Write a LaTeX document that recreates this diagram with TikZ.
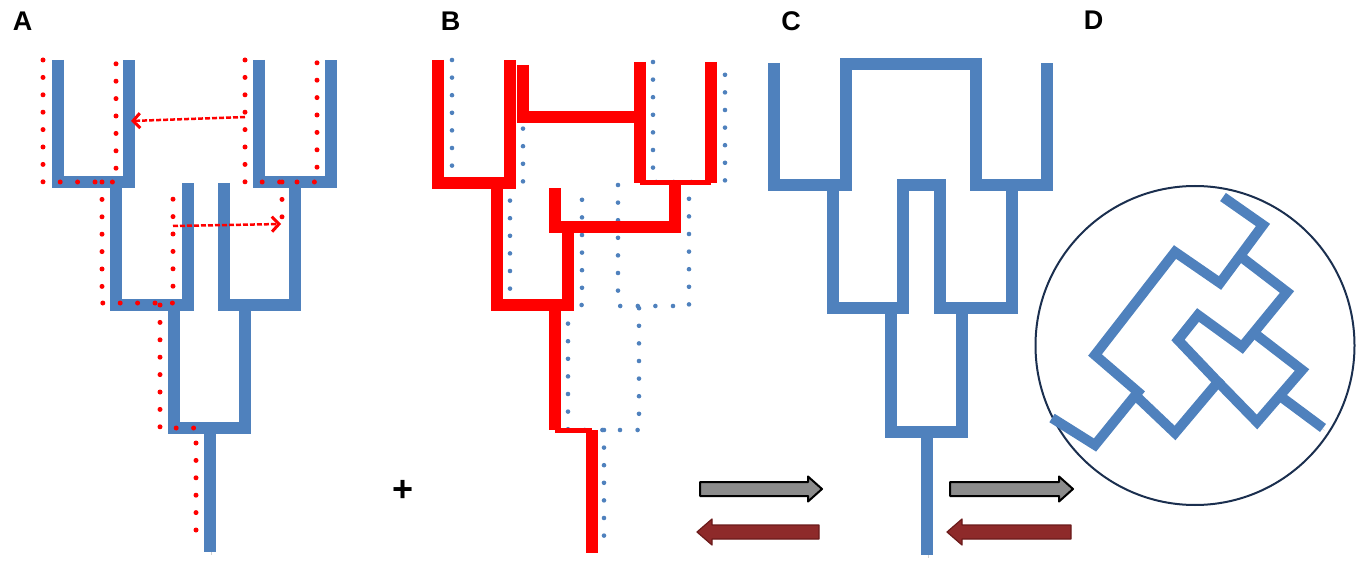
\documentclass[tikz,border=0pt]{standalone}
\usepackage{fontspec}
\setmainfont{Liberation Sans}
\usetikzlibrary{arrows.meta}
\definecolor{treeblue}{HTML}{4F81BD}
\definecolor{arrowgrey}{HTML}{8C8C8C}
\definecolor{arrowred}{HTML}{8E2A2A}
\definecolor{arrowredline}{HTML}{6A1A1A}
\definecolor{circleline}{HTML}{1B2F4F}
\begin{document}
\begin{tikzpicture}[x=1pt,y=-1pt,
  softshadow/.style={preaction={draw=black, draw opacity=0.18, transform canvas={shift={(1.5pt,-2.5pt)}}}},
  bluebar/.style={draw=treeblue, line width=12pt, line join=miter, softshadow},
  bluebarD/.style={draw=treeblue, line width=10pt, line join=miter, softshadow},
  redbar/.style={draw=red, line width=11.5pt, line join=miter},
  redthin/.style={draw=red, line width=5pt},
  reddots/.style={draw=red, line width=5pt, line cap=round, dash pattern=on 0pt off 17.4pt},
  bluedots/.style={draw=treeblue, line width=4.6pt, line cap=round, dash pattern=on 0pt off 17.6pt},
  movearrow/.style={draw=red, line width=2.5pt, dash pattern=on 5pt off 2pt, -{Straight Barb[length=7pt,width=15pt,line width=3pt]}},
  greyblock/.style={fill=arrowgrey, draw=black, line width=2pt, line join=round},
  redblock/.style={fill=arrowred, draw=arrowredline, line width=1.2pt, line join=round},
  panellabel/.style={font=\bfseries\fontsize{27}{30}\selectfont, inner sep=0pt}
]
\useasboundingbox (0,0) rectangle (1358,564);

% ---------- labels ----------
\node[panellabel] (labA) at (22.5,21.5) {A};
\node[panellabel] (labB) at (450.5,21.5) {B};
\node[panellabel] (labC) at (791,21.5) {C};
\node[panellabel] (labD) at (1093.5,20) {D};
\node[font=\bfseries\fontsize{36}{36}\selectfont, inner sep=0pt] (plus) at (403,491) {+};

% ---------- panel A : blue tree ----------
\draw[bluebar] (58,60) -- (58,182) -- (129,182) -- (129,60);
\draw[bluebar] (259,60) -- (259,182) -- (331,182) -- (331,60);
\draw[bluebar] (116,182) -- (116,305) -- (188,305) -- (188,183);
\draw[bluebar] (224,183) -- (224,305) -- (295,305) -- (295,182);
\draw[bluebar] (174,305) -- (174,428) -- (245,428) -- (245,305);
\draw[bluebar] (210,428) -- (210,552);

% panel A : red dotted contours
\draw[reddots] (43,60) -- (43,182) -- (116,182) -- (116,60);
\draw[reddots] (245,60) -- (245,182) -- (317,182) -- (317,60);
\draw[reddots] (102,182) -- (102,303) -- (173,303) -- (173,183);
\draw[reddots] (282,182) -- (282,222);
\draw[reddots] (160,305) -- (160,428) -- (196,428) -- (196,545);

% panel A : moves
\coordinate (mvAs) at (245,117);
\coordinate (mvAe) at (131,121);
\coordinate (mvBs) at (173,226);
\coordinate (mvBe) at (281,224);
\draw[movearrow] (mvAs) -- (mvAe);
\draw[movearrow] (mvBs) -- (mvBe);

% ---------- panel B : blue dotted original tree ----------
\draw[bluedots] (452,60) -- (452,182) -- (523,182) -- (523,60);
\draw[bluedots] (653,62) -- (653,182) -- (725,182) -- (725,62);
\draw[bluedots] (510,183) -- (510,305) -- (582,305) -- (582,185);
\draw[bluedots] (618,185) -- (618,306) -- (689,306) -- (689,185);
\draw[bluedots] (568,306) -- (568,430) -- (639,430) -- (639,308);
\draw[bluedots] (604,430) -- (604,545);

% panel B : red rearranged tree
\draw[redbar] (438,60) -- (438,183) -- (510,183) -- (510,60);
\draw[redbar] (497,183) -- (497,305) -- (568,305) -- (568,227);
\draw[redbar] (523,65) -- (523,117) -- (640,117);
\draw[redbar] (640,62) -- (640,183);
\draw[redbar] (711,62) -- (711,183);
\draw[redthin] (640,183) -- (711,183);
\draw[redbar] (675,183) -- (675,227) -- (555,227) -- (555,188);
\draw[redbar] (555,305) -- (555,430);
\draw[redthin] (555,430) -- (592,430);
\draw[redbar] (592,430) -- (592,553);

% ---------- block arrows ----------
\draw[greyblock] (700,482) -- (808,482) -- (808,476.5) -- (822,489) -- (808,501.5) -- (808,496) -- (700,496) -- cycle;
\draw[redblock] (819,525) -- (712,525) -- (712,519) -- (697,532) -- (712,545) -- (712,539) -- (819,539) -- cycle;
\draw[greyblock] (950,482) -- (1059,482) -- (1059,476.5) -- (1073,489) -- (1059,501.5) -- (1059,496) -- (950,496) -- cycle;
\draw[redblock] (1071,525) -- (962,525) -- (962,519) -- (947,532) -- (962,545) -- (962,539) -- (1071,539) -- cycle;

% ---------- panel C : blue tree ----------
\draw[bluebar] (774,63) -- (774,185) -- (846,185) -- (846,64) -- (976,64) -- (976,185) -- (1047,185) -- (1047,63);
\draw[bluebar] (833,185) -- (833,308) -- (903,308) -- (903,185) -- (940,185) -- (940,308) -- (1012,308) -- (1012,185);
\draw[bluebar] (891,308) -- (891,432) -- (962,432) -- (962,308);
\draw[bluebar] (927,432) -- (927,555);

% ---------- panel D : circle and rotated tree ----------
\draw[circleline, line width=2pt] (1195,345.5) circle [radius=159.5pt];
\draw[bluebarD] (1223,197) -- (1263,225) -- (1220,283) -- (1175,252) -- (1095,355) -- (1138,392) -- (1095,445) -- (1052,418);
\draw[bluebarD] (1135,395) -- (1175,433) -- (1218,382) -- (1178,340) -- (1198,315) -- (1242,347) -- (1287,292) -- (1240,256);
\draw[bluebarD] (1218,382) -- (1257,422) -- (1302,370) -- (1254,333);
\draw[bluebarD] (1280,396) -- (1323,428);
\end{tikzpicture}
\end{document}
